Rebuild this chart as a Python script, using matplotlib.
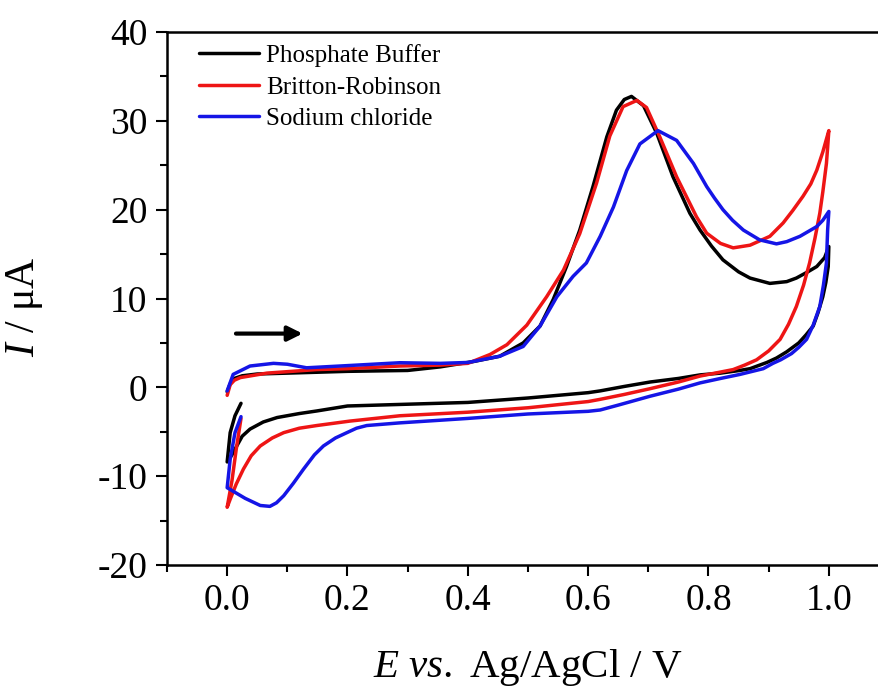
import matplotlib
matplotlib.use("Agg")
import matplotlib.pyplot as plt
from matplotlib.ticker import MultipleLocator

plt.rcParams['font.family'] = ['Liberation Serif', 'DejaVu Serif']
plt.rcParams['mathtext.fontset'] = 'custom'
plt.rcParams['mathtext.rm'] = 'Liberation Serif'
plt.rcParams['mathtext.it'] = 'Liberation Serif:italic'
plt.rcParams['axes.unicode_minus'] = False

labels = ["Phosphate Buffer", "Britton-Robinson", "Sodium chloride"]
colors = ["#000000", "#ee1515", "#1515e6"]

pb_x = [0.0, 0.005, 0.012, 0.025, 0.05, 0.1, 0.15, 0.2, 0.3, 0.354, 0.409, 0.453, 0.492,
        0.520, 0.542, 0.564, 0.586, 0.608, 0.631, 0.647, 0.66, 0.672, 0.692, 0.714, 0.741,
        0.769, 0.786, 0.805, 0.824, 0.85, 0.869, 0.902, 0.93, 0.946, 0.965, 0.980, 0.993, 1.0,
        0.999, 0.995, 0.990, 0.982, 0.974, 0.962, 0.95, 0.930, 0.913, 0.897, 0.869, 0.852,
        0.82, 0.786, 0.75, 0.703, 0.66, 0.62, 0.6, 0.5, 0.4, 0.3, 0.2, 0.149, 0.12, 0.083,
        0.06, 0.038, 0.025, 0.016, 0.008, 0.0,
        0.005, 0.013, 0.023]
pb_y = [-0.5, 0.4, 1.0, 1.3, 1.5, 1.6, 1.7, 1.8, 1.9, 2.3, 2.9, 3.5, 5.0,
        6.9, 9.9, 13.6, 17.7, 22.6, 28.2, 31.2, 32.4, 32.75, 31.7, 28.6, 23.7,
        19.6, 17.7, 15.9, 14.35, 13.0, 12.3, 11.7, 11.9, 12.3, 13.0, 13.6, 14.6, 15.85,
        13.6, 11.8, 10.2, 8.4, 6.9, 5.9, 5.0, 4.0, 3.3, 2.8, 2.1, 1.9,
        1.6, 1.4, 1.0, 0.6, 0.1, -0.4, -0.6, -1.2, -1.7, -1.9, -2.1, -2.66, -2.95, -3.4,
        -3.9, -4.7, -5.5, -6.6, -7.6, -8.4,
        -5.1, -3.2, -1.8]

br_x = [0.0, 0.005, 0.012, 0.022, 0.066, 0.149, 0.2, 0.287, 0.354, 0.4, 0.437, 0.465,
        0.498, 0.531, 0.559, 0.586, 0.614, 0.636, 0.658, 0.681, 0.697, 0.719, 0.747, 0.780,
        0.797, 0.82, 0.841, 0.869, 0.902, 0.924, 0.94, 0.957, 0.97, 0.980, 0.99, 1.0,
        0.998, 0.996, 0.99, 0.985, 0.977, 0.968, 0.958, 0.946, 0.933, 0.919, 0.9, 0.880,
        0.86, 0.841, 0.786, 0.75, 0.703, 0.66, 0.62, 0.6, 0.5, 0.4, 0.287, 0.204, 0.149,
        0.12, 0.094, 0.075, 0.055, 0.04, 0.027, 0.015, 0.005, 0.0,
        0.008, 0.015, 0.023]
br_y = [-0.9, 0.3, 0.8, 1.1, 1.6, 2.0, 2.1, 2.4, 2.5, 2.7, 3.7, 4.8,
        7.0, 10.2, 13.2, 17.3, 23.0, 28.3, 31.6, 32.3, 31.5, 28.2, 23.7, 19.2,
        17.35, 16.2, 15.7, 16.0, 17.0, 18.5, 19.9, 21.5, 22.9, 24.45, 26.5, 28.9,
        27.0, 25.2, 22.0, 19.6, 16.8, 14.0, 11.5, 9.1, 7.1, 5.4, 4.1, 3.1,
        2.5, 2.0, 1.27, 0.6, -0.15, -0.8, -1.35, -1.6, -2.3, -2.8, -3.2, -3.8, -4.3,
        -4.6, -5.1, -5.7, -6.6, -7.7, -9.2, -10.9, -12.6, -13.5,
        -10.5, -7.0, -3.5]

nc_x = [0.0, 0.01, 0.038, 0.077, 0.1, 0.132, 0.204, 0.287, 0.354, 0.4, 0.453, 0.492,
        0.520, 0.548, 0.575, 0.597, 0.620, 0.642, 0.664, 0.686, 0.716, 0.747, 0.775,
        0.797, 0.81, 0.824, 0.84, 0.858, 0.885, 0.913, 0.93, 0.952, 0.980, 0.99, 1.0,
        0.998, 0.996, 0.991, 0.985, 0.974, 0.963, 0.95, 0.938, 0.92, 0.907, 0.891, 0.852,
        0.82, 0.786, 0.75, 0.703, 0.65, 0.62, 0.6, 0.5, 0.4, 0.287, 0.232, 0.215, 0.199,
        0.18, 0.16, 0.145, 0.127, 0.11, 0.094, 0.082, 0.071, 0.055, 0.03, 0.0,
        0.005, 0.013, 0.023]
nc_y = [-0.4, 1.46, 2.4, 2.7, 2.6, 2.2, 2.46, 2.77, 2.7, 2.8, 3.5, 4.6,
        6.9, 10.2, 12.5, 14.0, 17.0, 20.3, 24.4, 27.4, 28.9, 27.8, 25.2,
        22.6, 21.3, 20.0, 18.8, 17.7, 16.6, 16.15, 16.4, 17.0, 18.1, 18.8, 19.8,
        17.7, 14.0, 11.5, 9.1, 7.0, 5.4, 4.5, 3.8, 3.1, 2.7, 2.1, 1.45,
        1.0, 0.5, -0.2, -1.0, -2.0, -2.55, -2.7, -3.0, -3.5, -4.0, -4.3, -4.6, -5.1,
        -5.7, -6.6, -7.6, -9.2, -10.8, -12.2, -13.0, -13.4, -13.3, -12.5, -11.3,
        -8.1, -5.1, -3.3]

series_x = [pb_x, br_x, nc_x]
series_y = [pb_y, br_y, nc_y]

W, H = 879, 688
fig = plt.figure(figsize=(W / 100, H / 100), dpi=100)
ax = fig.add_axes([167 / W, 1 - 565 / H, 722 / W, 533 / H])

for xs, ys, c, lab in zip(series_x, series_y, colors, labels):
    ax.plot(xs, ys, color=c, lw=2.5, label=lab, solid_joinstyle='round', solid_capstyle='round')

ax.set_xlim(-0.1, 1.1)
ax.set_ylim(-20, 40)
ax.xaxis.set_minor_locator(MultipleLocator(0.1))
ax.yaxis.set_major_locator(MultipleLocator(10))
ax.yaxis.set_minor_locator(MultipleLocator(5))
ax.set_xticks([0.0, 0.2, 0.4, 0.6, 0.8, 1.0])
ax.set_xticklabels(["0.0", "0.2", "0.4", "0.6", "0.8", "1.0"])
ax.tick_params(which='major', direction='out', length=8, width=1.5, labelsize=27)
ax.tick_params(axis='x', which='major', pad=5)
ax.tick_params(axis='y', which='major', pad=6)
ax.tick_params(which='minor', direction='out', length=5, width=1.5)
ax.tick_params(top=False, right=False, which='both')
for s in ax.spines.values():
    s.set_linewidth(1.8)

ax.set_xlabel(r'$E$ $vs.$ Ag/AgCl / V', fontsize=29.5, labelpad=21)
ax.set_ylabel(r'$I$ / μA', fontsize=30)
ax.yaxis.set_label_coords(-0.169, 0.484)

ax.annotate('', xy=(0.13, 6.05), xytext=(0.01, 6.05),
            arrowprops=dict(arrowstyle='-|>', lw=3, color='black', mutation_scale=22))

ax.legend(loc='upper left', bbox_to_anchor=(0.02, 1.01), frameon=False, fontsize=18,
          handlelength=2.4, handletextpad=0.3, labelspacing=0.36, borderaxespad=0.3)

fig.savefig("out.png", dpi=100)
